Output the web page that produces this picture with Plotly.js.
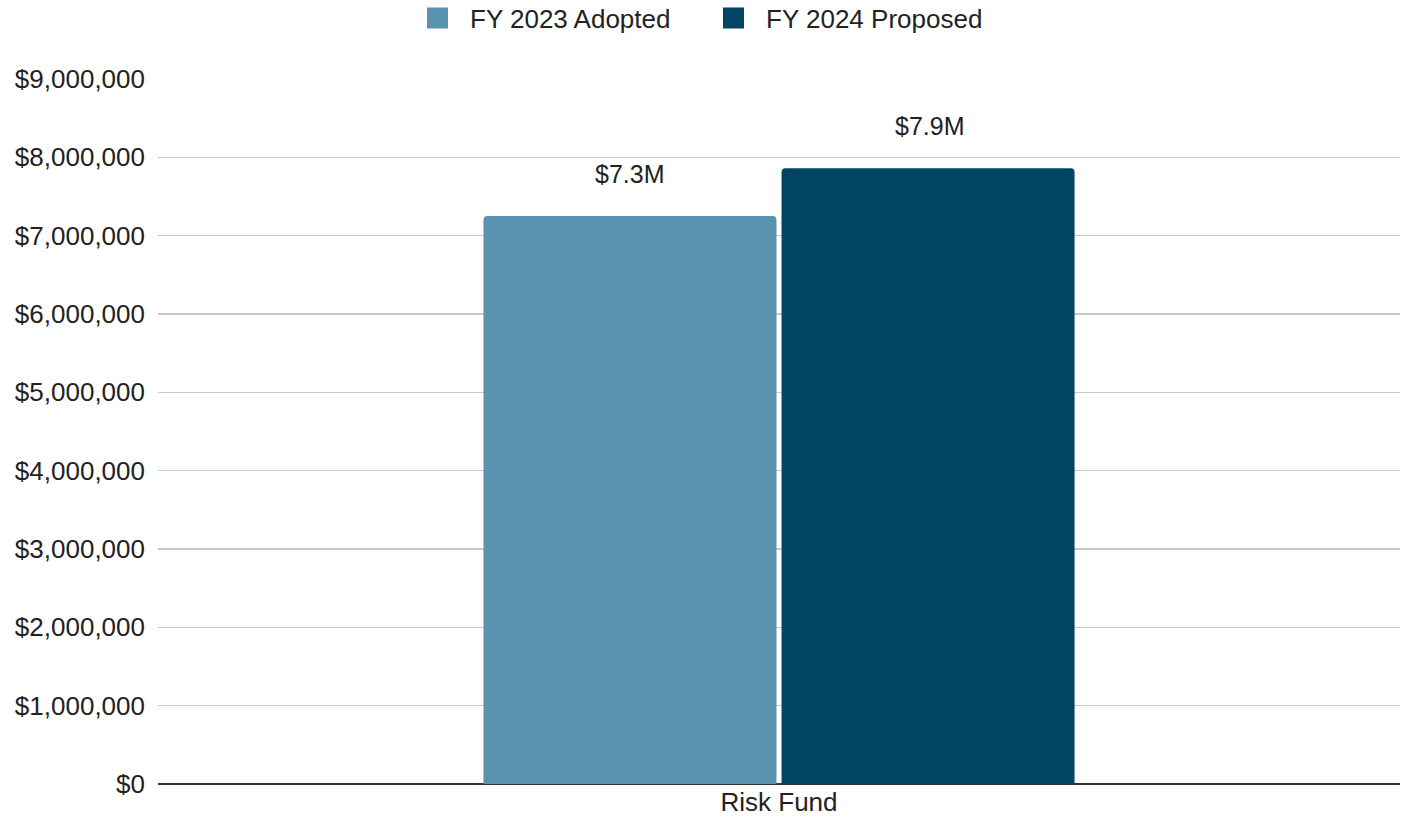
<!DOCTYPE html>
<html>
<head>
<meta charset="utf-8">
<script src="https://cdn.plot.ly/plotly-3.0.1.min.js"></script>
<style>html,body{margin:0;padding:0;background:#fff;}#chart{width:1402px;height:827px;}</style>
</head>
<body>
<div id="chart"></div>
<script>
const categories = ["Risk Fund"];
const seriesNames = ["FY 2023 Adopted", "FY 2024 Proposed"];
const fy2023 = [7250000];
const fy2024 = [7860000];
const labels2023 = ["$7.3M"];
const labels2024 = ["$7.9M"];
const colors = ["#5a93b0", "#024562"];

const font = "Liberation Sans, Arial, sans-serif";
const traces = [
  {type: "bar", name: seriesNames[0], x: categories, y: fy2023, marker: {color: colors[0], cornerradius: 4}, showlegend: false, hoverinfo: "y"},
  {type: "bar", name: seriesNames[1], x: categories, y: fy2024, marker: {color: colors[1], cornerradius: 4}, showlegend: false, hoverinfo: "y"},
  {type: "scatter", mode: "markers", name: seriesNames[0], x: [null], y: [null], marker: {symbol: "square", size: 22, color: colors[0], line: {width: 5, color: colors[0]}}},
  {type: "scatter", mode: "markers", name: seriesNames[1], x: [null], y: [null], marker: {symbol: "square", size: 22, color: colors[1], line: {width: 5, color: colors[1]}}}
];
const annotations = [];
[[fy2023, labels2023, -150], [fy2024, labels2024, 150]].forEach(([vals, labs, xs]) => {
  vals.forEach((v, i) => annotations.push({
    x: categories[i], y: v, text: labs[i], showarrow: false, xshift: xs, yshift: 42,
    font: {family: font, size: 25, color: "#222"}
  }));
});
const layout = {
  width: 1402, height: 827,
  margin: {l: 158, r: 2, t: 79, b: 43, autoexpand: false},
  paper_bgcolor: "#fff", plot_bgcolor: "#fff",
  barmode: "group", bargap: 0.52, bargroupgap: 0.017,
  font: {family: font, size: 26, color: "#222"},
  showlegend: true,
  legend: {orientation: "h", x: 0.5, xref: "container", xanchor: "center", y: 0.978, yref: "container", yanchor: "middle",
           font: {family: font, size: 26, color: "#222"}, itemwidth: 55, entrywidth: 226, tracegroupgap: 0},
  xaxis: {type: "category", showgrid: false, ticks: "", tickfont: {family: font, size: 26, color: "#222"}, showline: false, range: [-0.5, 0.5], automargin: false},
  yaxis: {range: [0, 9000000], dtick: 1000000, tickformat: "$,.0f", gridcolor: "#c8c8c8", gridwidth: 1.5,
          zeroline: true, zerolinecolor: "#333", zerolinewidth: 2, ticks: "", ticklabelstandoff: 12, automargin: false,
          tickfont: {family: font, size: 26, color: "#222"}},
  annotations: annotations
};
Plotly.newPlot("chart", traces, layout, {displayModeBar: false, staticPlot: true});
</script>
</body>
</html>
